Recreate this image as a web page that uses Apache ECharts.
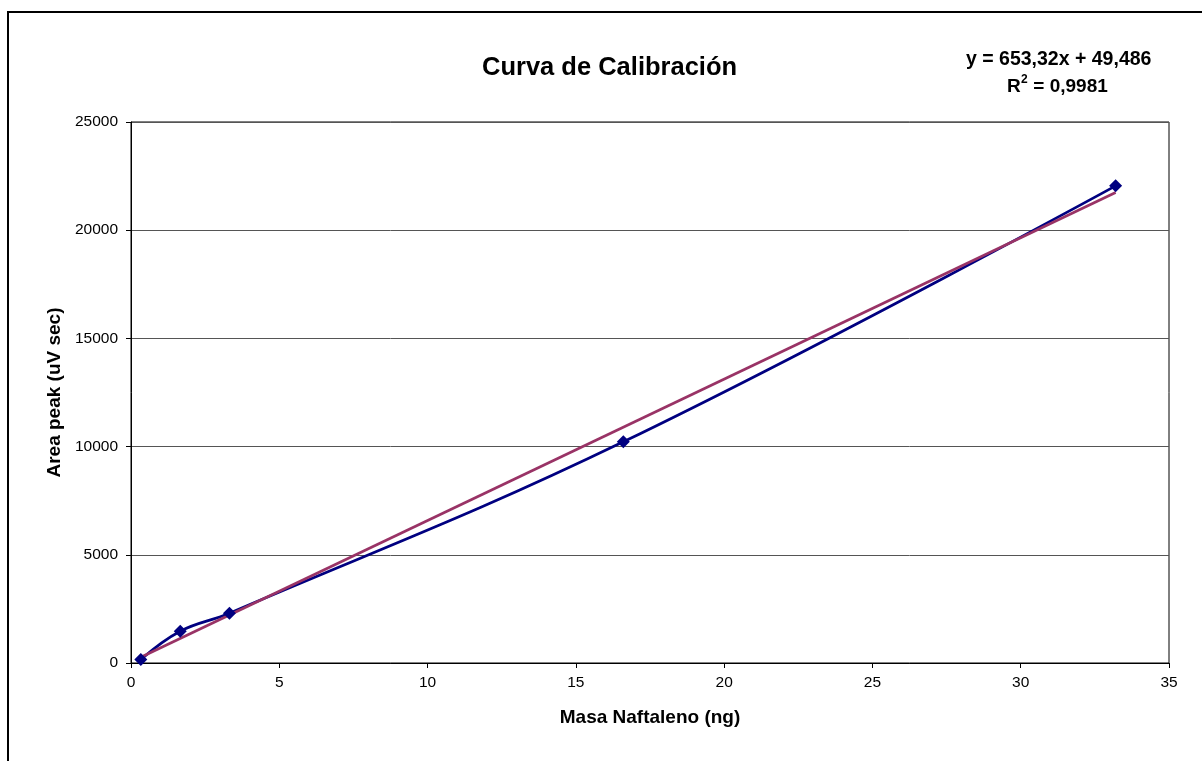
<!DOCTYPE html>
<html>
<head>
<meta charset="utf-8">
<script src="https://cdn.jsdelivr.net/npm/echarts@6/dist/echarts.min.js"></script>
<style>
html,body{margin:0;padding:0;background:#fff;}
#chart{width:1202px;height:761px;}
</style>
</head>
<body>
<div id="chart"></div>
<script>
// Data
const masa = [0.33, 1.66, 3.32, 16.6, 33.2];
const area = [160, 1470, 2300, 10220, 22050];
// Trendline end points
const trendX = [0.33, 33.2];
const trendY = [265, 21740];
const yTicks = [0, 5000, 10000, 15000, 20000, 25000];
const xTicks = [0, 5, 10, 15, 20, 25, 30, 35];

const titleText = 'Curva de Calibración';
const xName = 'Masa Naftaleno (ng)';
const yName = 'Area peak (uV sec)';
const eqText = 'y = 653,32x + 49,486';
const r2Value = ' = 0,9981';

const chart = echarts.init(document.getElementById('chart'));
const font = 'Liberation Sans, Arial, sans-serif';
chart.setOption({
  animation: false,
  backgroundColor: '#fff',
  title: {
    text: titleText,
    left: 477, top: 50, padding: 5,
    textStyle: {fontFamily: font, fontSize: 25.5, fontWeight: 'bold', color: '#000'}
  },
  graphic: [
    {type: 'rect', shape: {x: 8, y: 12, width: 1210, height: 770},
     style: {fill: 'none', stroke: '#000', lineWidth: 2}, silent: true},
    {type: 'text', left: 966, top: 50,
     style: {text: eqText, font: 'bold 19.5px ' + font, fill: '#000'}},
    {type: 'text', left: 1007, top: 77,
     style: {text: 'R', font: 'bold 19px ' + font, fill: '#000'}},
    {type: 'text', left: 1021, top: 74,
     style: {text: '2', font: 'bold 12px ' + font, fill: '#000'}},
    {type: 'text', left: 1028, top: 77,
     style: {text: r2Value, font: 'bold 19px ' + font, fill: '#000'}}
  ],
  grid: {left: 131, right: 33, top: 122, bottom: 98, show: true, borderColor: '#000', borderWidth: 1},
  xAxis: {
    type: 'value', min: 0, max: 35, interval: 5,
    name: xName, nameLocation: 'middle', nameGap: 45,
    nameTextStyle: {fontFamily: font, fontSize: 19, fontWeight: 'bold', color: '#000'},
    axisLine: {onZero: false, lineStyle: {color: '#000', width: 1}},
    axisTick: {show: true, length: 5, lineStyle: {color: '#000'}},
    axisLabel: {fontFamily: font, fontSize: 15.5, color: '#000', margin: 12},
    splitLine: {show: false}
  },
  yAxis: {
    type: 'value', min: 0, max: 25000, interval: 5000,
    name: yName, nameLocation: 'middle', nameGap: 66, nameRotate: 90,
    nameTextStyle: {fontFamily: font, fontSize: 19, fontWeight: 'bold', color: '#000'},
    axisLine: {show: true, lineStyle: {color: '#000', width: 1}},
    axisTick: {show: true, length: 5, lineStyle: {color: '#000'}},
    axisLabel: {fontFamily: font, fontSize: 15.5, color: '#000', margin: 13,
                formatter: v => String(v)},
    splitLine: {show: true, lineStyle: {color: '#555', width: 1}}
  },
  series: [
    {
      type: 'line', data: masa.map((x, i) => [x, area[i]]),
      smooth: 0.4, symbol: 'diamond', symbolSize: 13,
      lineStyle: {color: '#000080', width: 2.7},
      itemStyle: {color: '#000080'}
    },
    {
      type: 'line', data: trendX.map((x, i) => [x, trendY[i]]),
      symbol: 'none',
      lineStyle: {color: '#993366', width: 2.7}
    }
  ]
});
</script>
</body>
</html>
